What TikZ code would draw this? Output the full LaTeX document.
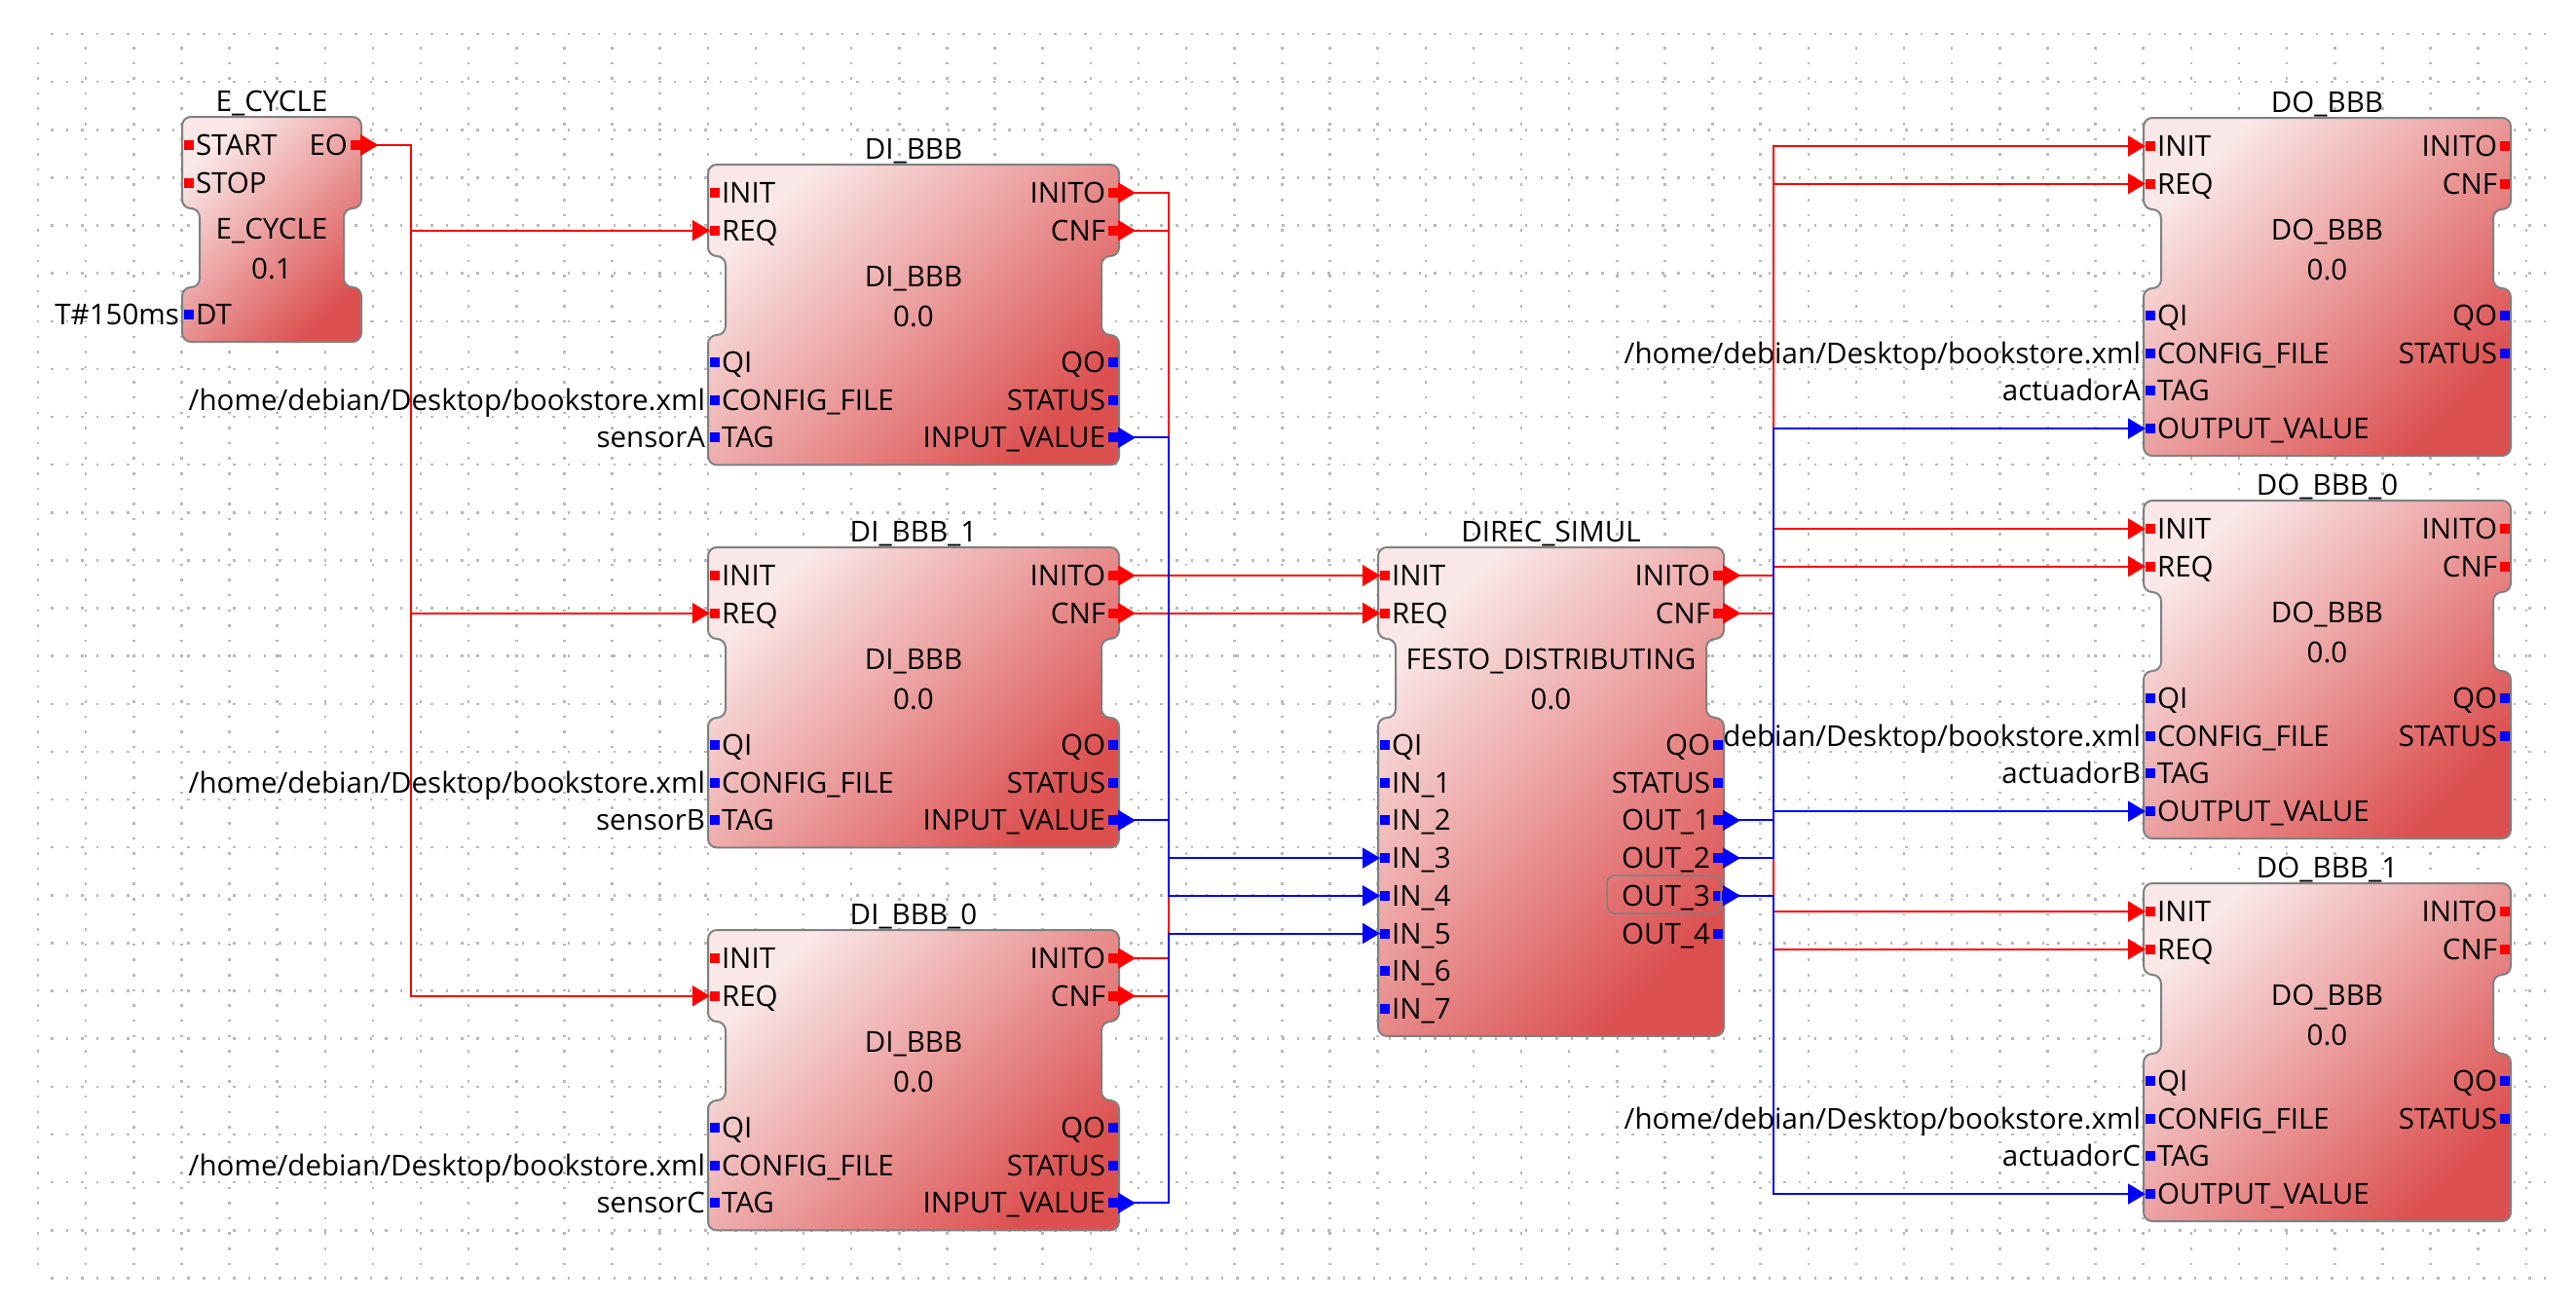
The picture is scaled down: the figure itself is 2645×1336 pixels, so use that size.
\documentclass[tikz,border=0pt]{standalone}
\usepackage{fontspec}
\setmainfont{Open Sans}
\usetikzlibrary{arrows.meta}
\definecolor{fbLight}{RGB}{250,232,232}
\definecolor{fbDark}{RGB}{220,80,80}
\definecolor{fbBorder}{RGB}{128,128,128}
\definecolor{evRed}{RGB}{255,0,0}
\definecolor{dtBlue}{RGB}{0,0,255}
\definecolor{gridGray}{RGB}{185,185,185}

\tikzset{
  fbbody/.style={draw=fbBorder, line width=0.02cm, rounded corners=0.09cm,
    top color=fbLight, bottom color=fbDark, shading angle=45},
  fbtxt/.style={inner sep=0pt, outer sep=0pt, font=\fontsize{8.4}{10}\selectfont, text=black},
  griddots/.style={draw=gridGray, line width=0.025cm, dash pattern=on 0.025cm off 0.131cm},
  conn/.style={line width=0.02cm,
    {Triangle[reversed,length=0.18cm,width=0.21cm]}-{Triangle[length=0.18cm,width=0.21cm]}},
  evc/.style={conn, color=evRed},
  dtc/.style={conn, color=dtBlue},
  selbox/.style={draw=fbBorder, line width=0.015cm, rounded corners=0.08cm}
}

\newcommand\fbblock[8]{%
  \def\fbid{#1}%
  \pgfmathsetmacro\fbL{#2}%
  \pgfmathsetmacro\fbR{#3}%
  \pgfmathsetmacro\fbY{#4}%
  \pgfmathsetmacro\fbT{#4-29}%
  \pgfmathsetmacro\fbUB{#4+65}%
  \pgfmathsetmacro\fbLT{#4+146}%
  \pgfmathsetmacro\fbB{#4+174+(#5-1)*38.7+28}%
  \pgfmathsetmacro\fbNL{#2+18}%
  \pgfmathsetmacro\fbNR{#3-18}%
  \pgfmathsetmacro\fbC{(#2+#3)/2}%
  \path[fbbody] (\fbC,\fbT) -- (\fbR,\fbT) -- (\fbR,\fbUB) -- (\fbNR,\fbUB) -- (\fbNR,\fbLT)
     -- (\fbR,\fbLT) -- (\fbR,\fbB) -- (\fbL,\fbB) -- (\fbL,\fbLT) -- (\fbNL,\fbLT)
     -- (\fbNL,\fbUB) -- (\fbL,\fbUB) -- (\fbL,\fbT) -- cycle;
  \node[fbtxt,anchor=base] (#1) at (\fbC,\fbT-6) {#6};
  \node[fbtxt,anchor=base] (#1-type) at (\fbC,#4+96.5) {#7};
  \node[fbtxt,anchor=base] (#1-ver) at (\fbC,#4+137.5) {#8};
}
\newcommand\evin[3]{%
  \pgfmathsetmacro\fbpy{\fbY+#2*38.7}%
  \fill[evRed] (\fbL+1.5,\fbpy-5) rectangle (\fbL+11.5,\fbpy+5);
  \coordinate (\fbid-#1) at (\fbL+2,\fbpy);
  \node[fbtxt,anchor=base west] (\fbid-#1-t) at (\fbL+14,\fbpy+10.5) {#3};
}
\newcommand\evout[3]{%
  \pgfmathsetmacro\fbpy{\fbY+#2*38.7}%
  \fill[evRed] (\fbR-11.5,\fbpy-5) rectangle (\fbR-1.5,\fbpy+5);
  \coordinate (\fbid-#1) at (\fbR-1,\fbpy);
  \node[fbtxt,anchor=base east] (\fbid-#1-t) at (\fbR-14,\fbpy+10.5) {#3};
}
\newcommand\dtin[3]{%
  \pgfmathsetmacro\fbpy{\fbY+174+#2*38.7}%
  \fill[dtBlue] (\fbL+1.5,\fbpy-5) rectangle (\fbL+11.5,\fbpy+5);
  \coordinate (\fbid-#1) at (\fbL+2,\fbpy);
  \node[fbtxt,anchor=base west] (\fbid-#1-t) at (\fbL+14,\fbpy+10.5) {#3};
}
\newcommand\dtout[3]{%
  \pgfmathsetmacro\fbpy{\fbY+174+#2*38.7}%
  \fill[dtBlue] (\fbR-11.5,\fbpy-5) rectangle (\fbR-1.5,\fbpy+5);
  \coordinate (\fbid-#1) at (\fbR-1,\fbpy);
  \node[fbtxt,anchor=base east] (\fbid-#1-t) at (\fbR-14,\fbpy+10.5) {#3};
}
\newcommand\fbparam[3]{%
  \pgfmathsetmacro\fbpy{\fbY+174+#2*38.7}%
  \node[fbtxt,anchor=base east] (\fbid-#1) at (\fbL-3,\fbpy+10.5) {#3};
}

\begin{document}
\begin{tikzpicture}[x=0.01cm,y=-0.01cm]
\fill[white] (0,0) rectangle (2645,1336);
\useasboundingbox (0,0) rectangle (2645,1336);

% background grid
\foreach \i in {0,...,52} \draw[griddots] (39+\i*49.13,48) -- (39+\i*49.13,1310);
\foreach \j in {0,...,26} \draw[griddots] (52,35+\j*49.13) -- (2616,35+\j*49.13);

% E_CYCLE
\fbblock{ec}{187}{371}{149}{1}{E\_CYCLE}{E\_CYCLE}{0.1}
\evin{i1}{0}{START}\evin{i2}{1}{STOP}\evout{o1}{0}{EO}
\dtin{di1}{0}{DT}\fbparam{p1}{0}{T\#150ms}

% DI blocks
\fbblock{di0}{727}{1149}{198}{3}{DI\_BBB}{DI\_BBB}{0.0}
\evin{i1}{0}{INIT}\evin{i2}{1}{REQ}\evout{o1}{0}{INITO}\evout{o2}{1}{CNF}
\dtin{di1}{0}{QI}\dtin{di2}{1}{CONFIG\_FILE}\dtin{di3}{2}{TAG}
\dtout{do1}{0}{QO}\dtout{do2}{1}{STATUS}\dtout{do3}{2}{INPUT\_VALUE}
\fbparam{p2}{1}{/home/debian/Desktop/bookstore.xml}\fbparam{p3}{2}{sensorA}

\fbblock{di1}{727}{1149}{591}{3}{DI\_BBB\_1}{DI\_BBB}{0.0}
\evin{i1}{0}{INIT}\evin{i2}{1}{REQ}\evout{o1}{0}{INITO}\evout{o2}{1}{CNF}
\dtin{di1}{0}{QI}\dtin{di2}{1}{CONFIG\_FILE}\dtin{di3}{2}{TAG}
\dtout{do1}{0}{QO}\dtout{do2}{1}{STATUS}\dtout{do3}{2}{INPUT\_VALUE}
\fbparam{p2}{1}{/home/debian/Desktop/bookstore.xml}\fbparam{p3}{2}{sensorB}

\fbblock{di2}{727}{1149}{984}{3}{DI\_BBB\_0}{DI\_BBB}{0.0}
\evin{i1}{0}{INIT}\evin{i2}{1}{REQ}\evout{o1}{0}{INITO}\evout{o2}{1}{CNF}
\dtin{di1}{0}{QI}\dtin{di2}{1}{CONFIG\_FILE}\dtin{di3}{2}{TAG}
\dtout{do1}{0}{QO}\dtout{do2}{1}{STATUS}\dtout{do3}{2}{INPUT\_VALUE}
\fbparam{p2}{1}{/home/debian/Desktop/bookstore.xml}\fbparam{p3}{2}{sensorC}

% DO blocks
\fbblock{do0}{2201}{2578}{150}{4}{DO\_BBB}{DO\_BBB}{0.0}
\evin{i1}{0}{INIT}\evin{i2}{1}{REQ}\evout{o1}{0}{INITO}\evout{o2}{1}{CNF}
\dtin{di1}{0}{QI}\dtin{di2}{1}{CONFIG\_FILE}\dtin{di3}{2}{TAG}\dtin{di4}{3}{OUTPUT\_VALUE}
\dtout{do1}{0}{QO}\dtout{do2}{1}{STATUS}
\fbparam{p2}{1}{/home/debian/Desktop/bookstore.xml}\fbparam{p3}{2}{actuadorA}

\fbblock{do1}{2201}{2578}{543}{4}{DO\_BBB\_0}{DO\_BBB}{0.0}
\evin{i1}{0}{INIT}\evin{i2}{1}{REQ}\evout{o1}{0}{INITO}\evout{o2}{1}{CNF}
\dtin{di1}{0}{QI}\dtin{di2}{1}{CONFIG\_FILE}\dtin{di3}{2}{TAG}\dtin{di4}{3}{OUTPUT\_VALUE}
\dtout{do1}{0}{QO}\dtout{do2}{1}{STATUS}
\begin{scope}
  \clip (1771,700) rectangle (2200,800);
  \fbparam{p2}{1}{/home/debian/Desktop/bookstore.xml}
\end{scope}
\fbparam{p3}{2}{actuadorB}

\fbblock{do2}{2201}{2578}{936}{4}{DO\_BBB\_1}{DO\_BBB}{0.0}
\evin{i1}{0}{INIT}\evin{i2}{1}{REQ}\evout{o1}{0}{INITO}\evout{o2}{1}{CNF}
\dtin{di1}{0}{QI}\dtin{di2}{1}{CONFIG\_FILE}\dtin{di3}{2}{TAG}\dtin{di4}{3}{OUTPUT\_VALUE}
\dtout{do1}{0}{QO}\dtout{do2}{1}{STATUS}
\fbparam{p2}{1}{/home/debian/Desktop/bookstore.xml}\fbparam{p3}{2}{actuadorC}

% DIREC_SIMUL
\fbblock{ds}{1415}{1770}{591}{8}{DIREC\_SIMUL}{FESTO\_DISTRIBUTING}{0.0}
\evin{i1}{0}{INIT}\evin{i2}{1}{REQ}\evout{o1}{0}{INITO}\evout{o2}{1}{CNF}
\dtin{di1}{0}{QI}\dtin{di2}{1}{IN\_1}\dtin{di3}{2}{IN\_2}\dtin{di4}{3}{IN\_3}
\dtin{di5}{4}{IN\_4}\dtin{di6}{5}{IN\_5}\dtin{di7}{6}{IN\_6}\dtin{di8}{7}{IN\_7}
\dtout{do1}{0}{QO}\dtout{do2}{1}{STATUS}\dtout{do3}{2}{OUT\_1}\dtout{do4}{3}{OUT\_2}
\dtout{do5}{4}{OUT\_3}\dtout{do6}{5}{OUT\_4}
\draw[selbox] (1650,899) rectangle (1767,938);

% bus columns
\coordinate (busL) at (422,0);
\coordinate (busM) at (1200,0);
\coordinate (busR) at (1821,0);

% event connections
\draw[evc] (ec-o1) -- (ec-o1 -| busL) |- (di0-i2);
\draw[evc] (ec-o1) -- (ec-o1 -| busL) |- (di1-i2);
\draw[evc] (ec-o1) -- (ec-o1 -| busL) |- (di2-i2);
\draw[evc] (di0-o1) -- (di0-o1 -| busM) |- (ds-i1);
\draw[evc] (di0-o2) -- (di0-o2 -| busM) |- (ds-i2);
\draw[evc] (di1-o1) -- (ds-i1);
\draw[evc] (di1-o2) -- (ds-i2);
\draw[evc] (di2-o1) -- (di2-o1 -| busM) |- (ds-i1);
\draw[evc] (di2-o2) -- (di2-o2 -| busM) |- (ds-i2);
\draw[evc] (ds-o1) -- (ds-o1 -| busR) |- (do0-i1);
\draw[evc] (ds-o2) -- (ds-o2 -| busR) |- (do0-i2);
\draw[evc] (ds-o1) -- (ds-o1 -| busR) |- (do1-i1);
\draw[evc] (ds-o2) -- (ds-o2 -| busR) |- (do1-i2);
\draw[evc] (ds-o1) -- (ds-o1 -| busR) |- (do2-i1);
\draw[evc] (ds-o2) -- (ds-o2 -| busR) |- (do2-i2);

% data connections
\draw[dtc] (di0-do3) -- (di0-do3 -| busM) |- (ds-di4);
\draw[dtc] (di1-do3) -- (di1-do3 -| busM) |- (ds-di5);
\draw[dtc] (di2-do3) -- (di2-do3 -| busM) |- (ds-di6);
\draw[dtc] (ds-do3) -- (ds-do3 -| busR) |- (do0-di4);
\draw[dtc] (ds-do4) -- (ds-do4 -| busR) |- (do1-di4);
\draw[dtc] (ds-do5) -- (ds-do5 -| busR) |- (do2-di4);
\end{tikzpicture}
\end{document}
